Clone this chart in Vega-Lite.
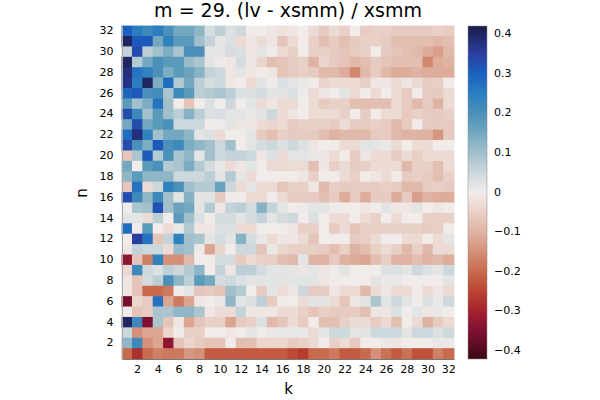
{
"$schema":"https://vega.github.io/schema/vega-lite/v6.json",
"width":332,"height":333,
"autosize":"none",
"padding":{"left":122,"top":26,"right":146,"bottom":41},
"background":"white",
"title":{"text":"m = 29. (lv - xsmm) / xsmm","fontSize":19,"font":"DejaVu Sans","fontWeight":"normal","color":"black","anchor":"middle","offset":4},
"config":{"view":{"stroke":null},"font":"DejaVu Sans"},
"data":{"values":[
{"n":32,"k":1,"v":0.3},{"n":32,"k":2,"v":0.25},{"n":32,"k":3,"v":0.22},{"n":32,"k":4,"v":0.25},{"n":32,"k":5,"v":0.2},{"n":32,"k":6,"v":0.15},{"n":32,"k":7,"v":0.15},{"n":32,"k":8,"v":0.12},{"n":32,"k":9,"v":0.04},{"n":32,"k":10,"v":0.07},{"n":32,"k":11,"v":0.03},{"n":32,"k":12,"v":0.05},{"n":32,"k":13,"v":0},{"n":32,"k":14,"v":0},{"n":32,"k":15,"v":-0.01},{"n":32,"k":16,"v":-0.02},{"n":32,"k":17,"v":-0.01},{"n":32,"k":18,"v":0},{"n":32,"k":19,"v":-0.03},{"n":32,"k":20,"v":-0.06},{"n":32,"k":21,"v":-0.03},{"n":32,"k":22,"v":-0.05},{"n":32,"k":23,"v":0},{"n":32,"k":24,"v":-0.06},{"n":32,"k":25,"v":-0.05},{"n":32,"k":26,"v":-0.05},{"n":32,"k":27,"v":-0.06},{"n":32,"k":28,"v":-0.06},{"n":32,"k":29,"v":-0.06},{"n":32,"k":30,"v":-0.06},{"n":32,"k":31,"v":-0.05},{"n":32,"k":32,"v":-0.06},
{"n":31,"k":1,"v":0.4},{"n":31,"k":2,"v":0.31},{"n":31,"k":3,"v":0.31},{"n":31,"k":4,"v":0.15},{"n":31,"k":5,"v":0.24},{"n":31,"k":6,"v":0.18},{"n":31,"k":7,"v":0.18},{"n":31,"k":8,"v":0.1},{"n":31,"k":9,"v":0.06},{"n":31,"k":10,"v":0.02},{"n":31,"k":11,"v":0.03},{"n":31,"k":12,"v":-0.03},{"n":31,"k":13,"v":-0.01},{"n":31,"k":14,"v":-0.03},{"n":31,"k":15,"v":-0.01},{"n":31,"k":16,"v":-0.07},{"n":31,"k":17,"v":-0.03},{"n":31,"k":18,"v":0},{"n":31,"k":19,"v":-0.05},{"n":31,"k":20,"v":-0.08},{"n":31,"k":21,"v":-0.06},{"n":31,"k":22,"v":-0.08},{"n":31,"k":23,"v":-0.06},{"n":31,"k":24,"v":-0.05},{"n":31,"k":25,"v":-0.05},{"n":31,"k":26,"v":-0.06},{"n":31,"k":27,"v":-0.08},{"n":31,"k":28,"v":-0.08},{"n":31,"k":29,"v":-0.08},{"n":31,"k":30,"v":-0.08},{"n":31,"k":31,"v":-0.09},{"n":31,"k":32,"v":-0.08},
{"n":30,"k":1,"v":0.06},{"n":30,"k":2,"v":0.33},{"n":30,"k":3,"v":0.07},{"n":30,"k":4,"v":0.1},{"n":30,"k":5,"v":0.14},{"n":30,"k":6,"v":0.09},{"n":30,"k":7,"v":0.2},{"n":30,"k":8,"v":0.2},{"n":30,"k":9,"v":0.02},{"n":30,"k":10,"v":0.02},{"n":30,"k":11,"v":0.04},{"n":30,"k":12,"v":0.03},{"n":30,"k":13,"v":-0.01},{"n":30,"k":14,"v":0.02},{"n":30,"k":15,"v":0},{"n":30,"k":16,"v":-0.03},{"n":30,"k":17,"v":-0.05},{"n":30,"k":18,"v":0},{"n":30,"k":19,"v":-0.05},{"n":30,"k":20,"v":-0.05},{"n":30,"k":21,"v":-0.06},{"n":30,"k":22,"v":-0.07},{"n":30,"k":23,"v":-0.06},{"n":30,"k":24,"v":-0.05},{"n":30,"k":25,"v":0},{"n":30,"k":26,"v":-0.06},{"n":30,"k":27,"v":-0.07},{"n":30,"k":28,"v":-0.08},{"n":30,"k":29,"v":-0.09},{"n":30,"k":30,"v":-0.11},{"n":30,"k":31,"v":-0.13},{"n":30,"k":32,"v":-0.09},
{"n":29,"k":1,"v":0.4},{"n":29,"k":2,"v":0.08},{"n":29,"k":3,"v":0.15},{"n":29,"k":4,"v":0.2},{"n":29,"k":5,"v":0.18},{"n":29,"k":6,"v":0.18},{"n":29,"k":7,"v":0.11},{"n":29,"k":8,"v":0.09},{"n":29,"k":9,"v":0.02},{"n":29,"k":10,"v":0.005},{"n":29,"k":11,"v":-0.01},{"n":29,"k":12,"v":0.04},{"n":29,"k":13,"v":-0.01},{"n":29,"k":14,"v":-0.04},{"n":29,"k":15,"v":-0.08},{"n":29,"k":16,"v":-0.07},{"n":29,"k":17,"v":-0.06},{"n":29,"k":18,"v":-0.05},{"n":29,"k":19,"v":-0.1},{"n":29,"k":20,"v":-0.04},{"n":29,"k":21,"v":-0.06},{"n":29,"k":22,"v":-0.07},{"n":29,"k":23,"v":-0.09},{"n":29,"k":24,"v":-0.08},{"n":29,"k":25,"v":-0.06},{"n":29,"k":26,"v":-0.07},{"n":29,"k":27,"v":-0.08},{"n":29,"k":28,"v":-0.08},{"n":29,"k":29,"v":-0.08},{"n":29,"k":30,"v":-0.16},{"n":29,"k":31,"v":-0.11},{"n":29,"k":32,"v":-0.1},
{"n":28,"k":1,"v":0.38},{"n":28,"k":2,"v":0.27},{"n":28,"k":3,"v":0.24},{"n":28,"k":4,"v":0.2},{"n":28,"k":5,"v":0.14},{"n":28,"k":6,"v":0.18},{"n":28,"k":7,"v":0.16},{"n":28,"k":8,"v":0.13},{"n":28,"k":9,"v":0.06},{"n":28,"k":10,"v":0.05},{"n":28,"k":11,"v":-0.01},{"n":28,"k":12,"v":0.02},{"n":28,"k":13,"v":-0.01},{"n":28,"k":14,"v":0},{"n":28,"k":15,"v":-0.01},{"n":28,"k":16,"v":-0.07},{"n":28,"k":17,"v":-0.06},{"n":28,"k":18,"v":-0.05},{"n":28,"k":19,"v":-0.06},{"n":28,"k":20,"v":-0.09},{"n":28,"k":21,"v":-0.09},{"n":28,"k":22,"v":-0.11},{"n":28,"k":23,"v":-0.16},{"n":28,"k":24,"v":-0.09},{"n":28,"k":25,"v":-0.06},{"n":28,"k":26,"v":-0.09},{"n":28,"k":27,"v":-0.11},{"n":28,"k":28,"v":-0.11},{"n":28,"k":29,"v":-0.1},{"n":28,"k":30,"v":-0.11},{"n":28,"k":31,"v":-0.11},{"n":28,"k":32,"v":-0.11},
{"n":27,"k":1,"v":0.37},{"n":27,"k":2,"v":0.25},{"n":27,"k":3,"v":0.4},{"n":27,"k":4,"v":0.14},{"n":27,"k":5,"v":0.28},{"n":27,"k":6,"v":0.08},{"n":27,"k":7,"v":0.15},{"n":27,"k":8,"v":0.07},{"n":27,"k":9,"v":0.04},{"n":27,"k":10,"v":0.05},{"n":27,"k":11,"v":-0.01},{"n":27,"k":12,"v":0},{"n":27,"k":13,"v":-0.03},{"n":27,"k":14,"v":0.02},{"n":27,"k":15,"v":0.005},{"n":27,"k":16,"v":0.03},{"n":27,"k":17,"v":0.02},{"n":27,"k":18,"v":0.01},{"n":27,"k":19,"v":0},{"n":27,"k":20,"v":-0.045},{"n":27,"k":21,"v":-0.03},{"n":27,"k":22,"v":-0.03},{"n":27,"k":23,"v":-0.03},{"n":27,"k":24,"v":-0.05},{"n":27,"k":25,"v":-0.01},{"n":27,"k":26,"v":-0.01},{"n":27,"k":27,"v":-0.03},{"n":27,"k":28,"v":-0.01},{"n":27,"k":29,"v":-0.03},{"n":27,"k":30,"v":-0.06},{"n":27,"k":31,"v":-0.05},{"n":27,"k":32,"v":0},
{"n":26,"k":1,"v":0.29},{"n":26,"k":2,"v":0.31},{"n":26,"k":3,"v":0.2},{"n":26,"k":4,"v":0.21},{"n":26,"k":5,"v":0.09},{"n":26,"k":6,"v":0.22},{"n":26,"k":7,"v":0.18},{"n":26,"k":8,"v":0.07},{"n":26,"k":9,"v":0.08},{"n":26,"k":10,"v":0.09},{"n":26,"k":11,"v":0.07},{"n":26,"k":12,"v":0.03},{"n":26,"k":13,"v":0.03},{"n":26,"k":14,"v":0.04},{"n":26,"k":15,"v":0.02},{"n":26,"k":16,"v":0.02},{"n":26,"k":17,"v":0.03},{"n":26,"k":18,"v":0.005},{"n":26,"k":19,"v":-0.03},{"n":26,"k":20,"v":-0.01},{"n":26,"k":21,"v":0},{"n":26,"k":22,"v":0.02},{"n":26,"k":23,"v":-0.03},{"n":26,"k":24,"v":0},{"n":26,"k":25,"v":-0.03},{"n":26,"k":26,"v":0},{"n":26,"k":27,"v":-0.03},{"n":26,"k":28,"v":-0.06},{"n":26,"k":29,"v":0},{"n":26,"k":30,"v":-0.06},{"n":26,"k":31,"v":-0.06},{"n":26,"k":32,"v":-0.03},
{"n":25,"k":1,"v":0.18},{"n":25,"k":2,"v":0.1},{"n":25,"k":3,"v":0.14},{"n":25,"k":4,"v":0.27},{"n":25,"k":5,"v":0.1},{"n":25,"k":6,"v":0},{"n":25,"k":7,"v":-0.07},{"n":25,"k":8,"v":0},{"n":25,"k":9,"v":0.03},{"n":25,"k":10,"v":0},{"n":25,"k":11,"v":0.05},{"n":25,"k":12,"v":0},{"n":25,"k":13,"v":0.02},{"n":25,"k":14,"v":-0.03},{"n":25,"k":15,"v":-0.01},{"n":25,"k":16,"v":-0.03},{"n":25,"k":17,"v":-0.03},{"n":25,"k":18,"v":0},{"n":25,"k":19,"v":-0.03},{"n":25,"k":20,"v":-0.06},{"n":25,"k":21,"v":-0.05},{"n":25,"k":22,"v":-0.05},{"n":25,"k":23,"v":-0.08},{"n":25,"k":24,"v":-0.08},{"n":25,"k":25,"v":-0.08},{"n":25,"k":26,"v":-0.08},{"n":25,"k":27,"v":-0.03},{"n":25,"k":28,"v":-0.06},{"n":25,"k":29,"v":-0.09},{"n":25,"k":30,"v":-0.06},{"n":25,"k":31,"v":-0.1},{"n":25,"k":32,"v":-0.03},
{"n":24,"k":1,"v":0.33},{"n":24,"k":2,"v":0.22},{"n":24,"k":3,"v":0.1},{"n":24,"k":4,"v":0.18},{"n":24,"k":5,"v":0.1},{"n":24,"k":6,"v":0.07},{"n":24,"k":7,"v":0.13},{"n":24,"k":8,"v":0.07},{"n":24,"k":9,"v":0.03},{"n":24,"k":10,"v":0.035},{"n":24,"k":11,"v":0.02},{"n":24,"k":12,"v":0.02},{"n":24,"k":13,"v":0.01},{"n":24,"k":14,"v":0.02},{"n":24,"k":15,"v":0.05},{"n":24,"k":16,"v":-0.03},{"n":24,"k":17,"v":-0.01},{"n":24,"k":18,"v":0},{"n":24,"k":19,"v":-0.03},{"n":24,"k":20,"v":-0.03},{"n":24,"k":21,"v":-0.03},{"n":24,"k":22,"v":-0.05},{"n":24,"k":23,"v":0},{"n":24,"k":24,"v":-0.06},{"n":24,"k":25,"v":0},{"n":24,"k":26,"v":-0.03},{"n":24,"k":27,"v":-0.03},{"n":24,"k":28,"v":-0.06},{"n":24,"k":29,"v":-0.05},{"n":24,"k":30,"v":-0.06},{"n":24,"k":31,"v":-0.06},{"n":24,"k":32,"v":-0.05},
{"n":23,"k":1,"v":0.15},{"n":23,"k":2,"v":0.33},{"n":23,"k":3,"v":0.15},{"n":23,"k":4,"v":0.18},{"n":23,"k":5,"v":0.2},{"n":23,"k":6,"v":0.05},{"n":23,"k":7,"v":0.05},{"n":23,"k":8,"v":0.05},{"n":23,"k":9,"v":0},{"n":23,"k":10,"v":0.005},{"n":23,"k":11,"v":0.02},{"n":23,"k":12,"v":-0.01},{"n":23,"k":13,"v":-0.01},{"n":23,"k":14,"v":-0.03},{"n":23,"k":15,"v":-0.04},{"n":23,"k":16,"v":-0.03},{"n":23,"k":17,"v":-0.06},{"n":23,"k":18,"v":-0.05},{"n":23,"k":19,"v":-0.05},{"n":23,"k":20,"v":-0.05},{"n":23,"k":21,"v":-0.06},{"n":23,"k":22,"v":-0.03},{"n":23,"k":23,"v":-0.06},{"n":23,"k":24,"v":-0.06},{"n":23,"k":25,"v":-0.05},{"n":23,"k":26,"v":-0.06},{"n":23,"k":27,"v":-0.09},{"n":23,"k":28,"v":-0.06},{"n":23,"k":29,"v":0},{"n":23,"k":30,"v":-0.06},{"n":23,"k":31,"v":-0.06},{"n":23,"k":32,"v":-0.06},
{"n":22,"k":1,"v":0.28},{"n":22,"k":2,"v":0.38},{"n":22,"k":3,"v":0.24},{"n":22,"k":4,"v":0.1},{"n":22,"k":5,"v":0.15},{"n":22,"k":6,"v":0.15},{"n":22,"k":7,"v":0.12},{"n":22,"k":8,"v":0.02},{"n":22,"k":9,"v":0.03},{"n":22,"k":10,"v":-0.03},{"n":22,"k":11,"v":0},{"n":22,"k":12,"v":0},{"n":22,"k":13,"v":0.02},{"n":22,"k":14,"v":-0.06},{"n":22,"k":15,"v":-0.08},{"n":22,"k":16,"v":-0.05},{"n":22,"k":17,"v":-0.06},{"n":22,"k":18,"v":-0.06},{"n":22,"k":19,"v":-0.06},{"n":22,"k":20,"v":-0.08},{"n":22,"k":21,"v":-0.1},{"n":22,"k":22,"v":-0.09},{"n":22,"k":23,"v":-0.09},{"n":22,"k":24,"v":-0.09},{"n":22,"k":25,"v":-0.06},{"n":22,"k":26,"v":-0.06},{"n":22,"k":27,"v":-0.09},{"n":22,"k":28,"v":-0.1},{"n":22,"k":29,"v":-0.1},{"n":22,"k":30,"v":-0.1},{"n":22,"k":31,"v":-0.14},{"n":22,"k":32,"v":-0.06},
{"n":21,"k":1,"v":0.33},{"n":21,"k":2,"v":0.2},{"n":21,"k":3,"v":0.14},{"n":21,"k":4,"v":0.31},{"n":21,"k":5,"v":0.2},{"n":21,"k":6,"v":0.22},{"n":21,"k":7,"v":0.14},{"n":21,"k":8,"v":0.12},{"n":21,"k":9,"v":0.1},{"n":21,"k":10,"v":0.05},{"n":21,"k":11,"v":0.1},{"n":21,"k":12,"v":0},{"n":21,"k":13,"v":0.02},{"n":21,"k":14,"v":0.04},{"n":21,"k":15,"v":0.05},{"n":21,"k":16,"v":0.03},{"n":21,"k":17,"v":0.05},{"n":21,"k":18,"v":0.03},{"n":21,"k":19,"v":-0.01},{"n":21,"k":20,"v":0},{"n":21,"k":21,"v":0},{"n":21,"k":22,"v":-0.03},{"n":21,"k":23,"v":-0.03},{"n":21,"k":24,"v":0.02},{"n":21,"k":25,"v":0.02},{"n":21,"k":26,"v":0.01},{"n":21,"k":27,"v":-0.03},{"n":21,"k":28,"v":0},{"n":21,"k":29,"v":-0.03},{"n":21,"k":30,"v":-0.03},{"n":21,"k":31,"v":0},{"n":21,"k":32,"v":0},
{"n":20,"k":1,"v":-0.07},{"n":20,"k":2,"v":0.09},{"n":20,"k":3,"v":0.31},{"n":20,"k":4,"v":0.08},{"n":20,"k":5,"v":0.2},{"n":20,"k":6,"v":0.09},{"n":20,"k":7,"v":0.12},{"n":20,"k":8,"v":0.02},{"n":20,"k":9,"v":0.1},{"n":20,"k":10,"v":0.05},{"n":20,"k":11,"v":0.06},{"n":20,"k":12,"v":0.06},{"n":20,"k":13,"v":0.05},{"n":20,"k":14,"v":-0.01},{"n":20,"k":15,"v":0.03},{"n":20,"k":16,"v":-0.03},{"n":20,"k":17,"v":0.02},{"n":20,"k":18,"v":0.02},{"n":20,"k":19,"v":0.01},{"n":20,"k":20,"v":-0.01},{"n":20,"k":21,"v":-0.03},{"n":20,"k":22,"v":0},{"n":20,"k":23,"v":-0.06},{"n":20,"k":24,"v":-0.01},{"n":20,"k":25,"v":-0.03},{"n":20,"k":26,"v":-0.03},{"n":20,"k":27,"v":-0.06},{"n":20,"k":28,"v":-0.03},{"n":20,"k":29,"v":-0.05},{"n":20,"k":30,"v":-0.03},{"n":20,"k":31,"v":-0.03},{"n":20,"k":32,"v":-0.03},
{"n":19,"k":1,"v":0.15},{"n":19,"k":2,"v":0},{"n":19,"k":3,"v":0.18},{"n":19,"k":4,"v":0.2},{"n":19,"k":5,"v":0.08},{"n":19,"k":6,"v":0.09},{"n":19,"k":7,"v":0.14},{"n":19,"k":8,"v":0.08},{"n":19,"k":9,"v":0.04},{"n":19,"k":10,"v":0.01},{"n":19,"k":11,"v":-0.03},{"n":19,"k":12,"v":-0.01},{"n":19,"k":13,"v":0.02},{"n":19,"k":14,"v":0},{"n":19,"k":15,"v":-0.03},{"n":19,"k":16,"v":-0.035},{"n":19,"k":17,"v":-0.03},{"n":19,"k":18,"v":-0.03},{"n":19,"k":19,"v":-0.08},{"n":19,"k":20,"v":-0.01},{"n":19,"k":21,"v":-0.05},{"n":19,"k":22,"v":-0.03},{"n":19,"k":23,"v":-0.06},{"n":19,"k":24,"v":-0.05},{"n":19,"k":25,"v":-0.03},{"n":19,"k":26,"v":-0.03},{"n":19,"k":27,"v":-0.03},{"n":19,"k":28,"v":-0.09},{"n":19,"k":29,"v":-0.05},{"n":19,"k":30,"v":-0.05},{"n":19,"k":31,"v":-0.08},{"n":19,"k":32,"v":-0.03},
{"n":18,"k":1,"v":0.12},{"n":18,"k":2,"v":0.18},{"n":18,"k":3,"v":0.12},{"n":18,"k":4,"v":0.12},{"n":18,"k":5,"v":0.12},{"n":18,"k":6,"v":0.05},{"n":18,"k":7,"v":0.05},{"n":18,"k":8,"v":0.05},{"n":18,"k":9,"v":0.07},{"n":18,"k":10,"v":0.02},{"n":18,"k":11,"v":0.08},{"n":18,"k":12,"v":0.02},{"n":18,"k":13,"v":-0.03},{"n":18,"k":14,"v":0},{"n":18,"k":15,"v":0},{"n":18,"k":16,"v":0},{"n":18,"k":17,"v":0},{"n":18,"k":18,"v":-0.01},{"n":18,"k":19,"v":-0.05},{"n":18,"k":20,"v":0},{"n":18,"k":21,"v":0},{"n":18,"k":22,"v":-0.03},{"n":18,"k":23,"v":-0.05},{"n":18,"k":24,"v":0},{"n":18,"k":25,"v":-0.01},{"n":18,"k":26,"v":-0.03},{"n":18,"k":27,"v":0},{"n":18,"k":28,"v":-0.06},{"n":18,"k":29,"v":-0.05},{"n":18,"k":30,"v":-0.06},{"n":18,"k":31,"v":-0.08},{"n":18,"k":32,"v":-0.05},
{"n":17,"k":1,"v":-0.07},{"n":17,"k":2,"v":0.27},{"n":17,"k":3,"v":-0.03},{"n":17,"k":4,"v":0.05},{"n":17,"k":5,"v":0.24},{"n":17,"k":6,"v":0.2},{"n":17,"k":7,"v":0.1},{"n":17,"k":8,"v":0.08},{"n":17,"k":9,"v":0.08},{"n":17,"k":10,"v":0.16},{"n":17,"k":11,"v":0.05},{"n":17,"k":12,"v":-0.03},{"n":17,"k":13,"v":0.02},{"n":17,"k":14,"v":-0.03},{"n":17,"k":15,"v":-0.03},{"n":17,"k":16,"v":-0.07},{"n":17,"k":17,"v":-0.05},{"n":17,"k":18,"v":-0.05},{"n":17,"k":19,"v":-0.01},{"n":17,"k":20,"v":-0.09},{"n":17,"k":21,"v":-0.05},{"n":17,"k":22,"v":-0.06},{"n":17,"k":23,"v":-0.06},{"n":17,"k":24,"v":-0.06},{"n":17,"k":25,"v":-0.06},{"n":17,"k":26,"v":-0.05},{"n":17,"k":27,"v":-0.06},{"n":17,"k":28,"v":-0.09},{"n":17,"k":29,"v":-0.09},{"n":17,"k":30,"v":-0.06},{"n":17,"k":31,"v":-0.05},{"n":17,"k":32,"v":-0.06},
{"n":16,"k":1,"v":0.33},{"n":16,"k":2,"v":0.22},{"n":16,"k":3,"v":0.12},{"n":16,"k":4,"v":0.22},{"n":16,"k":5,"v":0.1},{"n":16,"k":6,"v":0.02},{"n":16,"k":7,"v":0.13},{"n":16,"k":8,"v":0.02},{"n":16,"k":9,"v":0.02},{"n":16,"k":10,"v":-0.06},{"n":16,"k":11,"v":0},{"n":16,"k":12,"v":0},{"n":16,"k":13,"v":-0.03},{"n":16,"k":14,"v":-0.03},{"n":16,"k":15,"v":0},{"n":16,"k":16,"v":-0.03},{"n":16,"k":17,"v":-0.06},{"n":16,"k":18,"v":-0.06},{"n":16,"k":19,"v":-0.06},{"n":16,"k":20,"v":-0.08},{"n":16,"k":21,"v":-0.06},{"n":16,"k":22,"v":-0.11},{"n":16,"k":23,"v":-0.06},{"n":16,"k":24,"v":-0.11},{"n":16,"k":25,"v":-0.06},{"n":16,"k":26,"v":-0.06},{"n":16,"k":27,"v":-0.11},{"n":16,"k":28,"v":-0.06},{"n":16,"k":29,"v":-0.13},{"n":16,"k":30,"v":-0.1},{"n":16,"k":31,"v":-0.11},{"n":16,"k":32,"v":-0.11},
{"n":15,"k":1,"v":0},{"n":15,"k":2,"v":0.09},{"n":15,"k":3,"v":0.1},{"n":15,"k":4,"v":0.32},{"n":15,"k":5,"v":0.1},{"n":15,"k":6,"v":0.16},{"n":15,"k":7,"v":0.15},{"n":15,"k":8,"v":0.02},{"n":15,"k":9,"v":0.08},{"n":15,"k":10,"v":-0.01},{"n":15,"k":11,"v":0.06},{"n":15,"k":12,"v":0.07},{"n":15,"k":13,"v":0.04},{"n":15,"k":14,"v":0.13},{"n":15,"k":15,"v":0.06},{"n":15,"k":16,"v":0.02},{"n":15,"k":17,"v":0},{"n":15,"k":18,"v":0.005},{"n":15,"k":19,"v":0.02},{"n":15,"k":20,"v":0.02},{"n":15,"k":21,"v":0.005},{"n":15,"k":22,"v":0},{"n":15,"k":23,"v":0},{"n":15,"k":24,"v":-0.01},{"n":15,"k":25,"v":0},{"n":15,"k":26,"v":0.02},{"n":15,"k":27,"v":-0.01},{"n":15,"k":28,"v":-0.01},{"n":15,"k":29,"v":0.02},{"n":15,"k":30,"v":0},{"n":15,"k":31,"v":-0.01},{"n":15,"k":32,"v":0},
{"n":14,"k":1,"v":0.02},{"n":14,"k":2,"v":0.02},{"n":14,"k":3,"v":-0.03},{"n":14,"k":4,"v":0.07},{"n":14,"k":5,"v":0},{"n":14,"k":6,"v":0.18},{"n":14,"k":7,"v":0.1},{"n":14,"k":8,"v":0.03},{"n":14,"k":9,"v":0},{"n":14,"k":10,"v":0.04},{"n":14,"k":11,"v":0.04},{"n":14,"k":12,"v":0.02},{"n":14,"k":13,"v":0.04},{"n":14,"k":14,"v":0.06},{"n":14,"k":15,"v":0.02},{"n":14,"k":16,"v":0.04},{"n":14,"k":17,"v":0.05},{"n":14,"k":18,"v":0},{"n":14,"k":19,"v":0.03},{"n":14,"k":20,"v":0},{"n":14,"k":21,"v":-0.03},{"n":14,"k":22,"v":-0.03},{"n":14,"k":23,"v":0},{"n":14,"k":24,"v":-0.03},{"n":14,"k":25,"v":-0.05},{"n":14,"k":26,"v":0},{"n":14,"k":27,"v":-0.03},{"n":14,"k":28,"v":0},{"n":14,"k":29,"v":0},{"n":14,"k":30,"v":-0.05},{"n":14,"k":31,"v":-0.05},{"n":14,"k":32,"v":-0.05},
{"n":13,"k":1,"v":0.28},{"n":13,"k":2,"v":0},{"n":13,"k":3,"v":0.18},{"n":13,"k":4,"v":0},{"n":13,"k":5,"v":-0.03},{"n":13,"k":6,"v":0.01},{"n":13,"k":7,"v":0.08},{"n":13,"k":8,"v":-0.01},{"n":13,"k":9,"v":-0.01},{"n":13,"k":10,"v":0.03},{"n":13,"k":11,"v":0.03},{"n":13,"k":12,"v":-0.03},{"n":13,"k":13,"v":-0.03},{"n":13,"k":14,"v":0},{"n":13,"k":15,"v":0},{"n":13,"k":16,"v":0},{"n":13,"k":17,"v":-0.01},{"n":13,"k":18,"v":-0.05},{"n":13,"k":19,"v":-0.05},{"n":13,"k":20,"v":0},{"n":13,"k":21,"v":-0.06},{"n":13,"k":22,"v":-0.03},{"n":13,"k":23,"v":-0.07},{"n":13,"k":24,"v":-0.05},{"n":13,"k":25,"v":-0.05},{"n":13,"k":26,"v":-0.05},{"n":13,"k":27,"v":-0.05},{"n":13,"k":28,"v":-0.05},{"n":13,"k":29,"v":-0.05},{"n":13,"k":30,"v":-0.06},{"n":13,"k":31,"v":-0.05},{"n":13,"k":32,"v":0},
{"n":12,"k":1,"v":0},{"n":12,"k":2,"v":0.35},{"n":12,"k":3,"v":0.27},{"n":12,"k":4,"v":-0.07},{"n":12,"k":5,"v":0.06},{"n":12,"k":6,"v":0.24},{"n":12,"k":7,"v":0.1},{"n":12,"k":8,"v":0.09},{"n":12,"k":9,"v":0.02},{"n":12,"k":10,"v":0.04},{"n":12,"k":11,"v":0.02},{"n":12,"k":12,"v":0.13},{"n":12,"k":13,"v":0.04},{"n":12,"k":14,"v":0.01},{"n":12,"k":15,"v":-0.03},{"n":12,"k":16,"v":-0.01},{"n":12,"k":17,"v":-0.01},{"n":12,"k":18,"v":-0.03},{"n":12,"k":19,"v":-0.07},{"n":12,"k":20,"v":0},{"n":12,"k":21,"v":0},{"n":12,"k":22,"v":0},{"n":12,"k":23,"v":-0.06},{"n":12,"k":24,"v":-0.05},{"n":12,"k":25,"v":-0.03},{"n":12,"k":26,"v":0},{"n":12,"k":27,"v":0},{"n":12,"k":28,"v":-0.03},{"n":12,"k":29,"v":-0.03},{"n":12,"k":30,"v":0},{"n":12,"k":31,"v":-0.03},{"n":12,"k":32,"v":0.02},
{"n":11,"k":1,"v":-0.01},{"n":11,"k":2,"v":0.06},{"n":11,"k":3,"v":0.05},{"n":11,"k":4,"v":0.05},{"n":11,"k":5,"v":-0.03},{"n":11,"k":6,"v":0.11},{"n":11,"k":7,"v":0.1},{"n":11,"k":8,"v":0.005},{"n":11,"k":9,"v":-0.12},{"n":11,"k":10,"v":-0.04},{"n":11,"k":11,"v":0},{"n":11,"k":12,"v":0.05},{"n":11,"k":13,"v":0.05},{"n":11,"k":14,"v":-0.07},{"n":11,"k":15,"v":0.01},{"n":11,"k":16,"v":-0.04},{"n":11,"k":17,"v":-0.05},{"n":11,"k":18,"v":-0.05},{"n":11,"k":19,"v":-0.05},{"n":11,"k":20,"v":-0.06},{"n":11,"k":21,"v":-0.08},{"n":11,"k":22,"v":-0.05},{"n":11,"k":23,"v":-0.1},{"n":11,"k":24,"v":-0.08},{"n":11,"k":25,"v":-0.05},{"n":11,"k":26,"v":-0.03},{"n":11,"k":27,"v":-0.05},{"n":11,"k":28,"v":-0.09},{"n":11,"k":29,"v":-0.05},{"n":11,"k":30,"v":-0.09},{"n":11,"k":31,"v":-0.03},{"n":11,"k":32,"v":-0.03},
{"n":10,"k":1,"v":-0.33},{"n":10,"k":2,"v":-0.07},{"n":10,"k":3,"v":-0.17},{"n":10,"k":4,"v":0.24},{"n":10,"k":5,"v":-0.15},{"n":10,"k":6,"v":-0.15},{"n":10,"k":7,"v":-0.09},{"n":10,"k":8,"v":0},{"n":10,"k":9,"v":0},{"n":10,"k":10,"v":0.04},{"n":10,"k":11,"v":0.04},{"n":10,"k":12,"v":-0.06},{"n":10,"k":13,"v":-0.03},{"n":10,"k":14,"v":-0.05},{"n":10,"k":15,"v":-0.05},{"n":10,"k":16,"v":-0.08},{"n":10,"k":17,"v":-0.09},{"n":10,"k":18,"v":0.02},{"n":10,"k":19,"v":-0.1},{"n":10,"k":20,"v":-0.1},{"n":10,"k":21,"v":-0.06},{"n":10,"k":22,"v":-0.1},{"n":10,"k":23,"v":-0.11},{"n":10,"k":24,"v":-0.12},{"n":10,"k":25,"v":-0.08},{"n":10,"k":26,"v":-0.05},{"n":10,"k":27,"v":-0.1},{"n":10,"k":28,"v":-0.1},{"n":10,"k":29,"v":-0.08},{"n":10,"k":30,"v":-0.1},{"n":10,"k":31,"v":-0.09},{"n":10,"k":32,"v":-0.11},
{"n":9,"k":1,"v":-0.035},{"n":9,"k":2,"v":0.22},{"n":9,"k":3,"v":0.05},{"n":9,"k":4,"v":0.03},{"n":9,"k":5,"v":0.07},{"n":9,"k":6,"v":0.05},{"n":9,"k":7,"v":0.08},{"n":9,"k":8,"v":0.12},{"n":9,"k":9,"v":0},{"n":9,"k":10,"v":0.06},{"n":9,"k":11,"v":-0.01},{"n":9,"k":12,"v":0.07},{"n":9,"k":13,"v":0.07},{"n":9,"k":14,"v":0.04},{"n":9,"k":15,"v":0.02},{"n":9,"k":16,"v":0.02},{"n":9,"k":17,"v":0.02},{"n":9,"k":18,"v":-0.01},{"n":9,"k":19,"v":0.02},{"n":9,"k":20,"v":-0.01},{"n":9,"k":21,"v":0.005},{"n":9,"k":22,"v":0.02},{"n":9,"k":23,"v":0},{"n":9,"k":24,"v":0},{"n":9,"k":25,"v":0},{"n":9,"k":26,"v":0.03},{"n":9,"k":27,"v":0.03},{"n":9,"k":28,"v":0.02},{"n":9,"k":29,"v":0.05},{"n":9,"k":30,"v":0.03},{"n":9,"k":31,"v":0.02},{"n":9,"k":32,"v":0.05},
{"n":8,"k":1,"v":-0.01},{"n":8,"k":2,"v":-0.07},{"n":8,"k":3,"v":0.04},{"n":8,"k":4,"v":0.07},{"n":8,"k":5,"v":0.2},{"n":8,"k":6,"v":0.12},{"n":8,"k":7,"v":0.07},{"n":8,"k":8,"v":0.18},{"n":8,"k":9,"v":0.15},{"n":8,"k":10,"v":0.04},{"n":8,"k":11,"v":0.05},{"n":8,"k":12,"v":0.03},{"n":8,"k":13,"v":0.02},{"n":8,"k":14,"v":0.02},{"n":8,"k":15,"v":0.02},{"n":8,"k":16,"v":0.02},{"n":8,"k":17,"v":0.02},{"n":8,"k":18,"v":0.02},{"n":8,"k":19,"v":0.02},{"n":8,"k":20,"v":-0.01},{"n":8,"k":21,"v":0},{"n":8,"k":22,"v":0},{"n":8,"k":23,"v":0},{"n":8,"k":24,"v":0},{"n":8,"k":25,"v":0.02},{"n":8,"k":26,"v":0.01},{"n":8,"k":27,"v":0.01},{"n":8,"k":28,"v":0},{"n":8,"k":29,"v":0},{"n":8,"k":30,"v":0},{"n":8,"k":31,"v":0},{"n":8,"k":32,"v":0.02},
{"n":7,"k":1,"v":-0.01},{"n":7,"k":2,"v":-0.07},{"n":7,"k":3,"v":-0.2},{"n":7,"k":4,"v":-0.2},{"n":7,"k":5,"v":-0.18},{"n":7,"k":6,"v":0},{"n":7,"k":7,"v":0.02},{"n":7,"k":8,"v":-0.07},{"n":7,"k":9,"v":-0.06},{"n":7,"k":10,"v":-0.07},{"n":7,"k":11,"v":0.1},{"n":7,"k":12,"v":0.08},{"n":7,"k":13,"v":0},{"n":7,"k":14,"v":-0.06},{"n":7,"k":15,"v":0.02},{"n":7,"k":16,"v":-0.03},{"n":7,"k":17,"v":-0.01},{"n":7,"k":18,"v":0.05},{"n":7,"k":19,"v":-0.06},{"n":7,"k":20,"v":-0.06},{"n":7,"k":21,"v":-0.01},{"n":7,"k":22,"v":-0.03},{"n":7,"k":23,"v":-0.03},{"n":7,"k":24,"v":-0.09},{"n":7,"k":25,"v":-0.03},{"n":7,"k":26,"v":-0.01},{"n":7,"k":27,"v":-0.03},{"n":7,"k":28,"v":-0.03},{"n":7,"k":29,"v":0},{"n":7,"k":30,"v":-0.03},{"n":7,"k":31,"v":-0.01},{"n":7,"k":32,"v":-0.03},
{"n":6,"k":1,"v":-0.36},{"n":6,"k":2,"v":-0.04},{"n":6,"k":3,"v":-0.06},{"n":6,"k":4,"v":0.27},{"n":6,"k":5,"v":-0.12},{"n":6,"k":6,"v":-0.18},{"n":6,"k":7,"v":-0.12},{"n":6,"k":8,"v":-0.01},{"n":6,"k":9,"v":0},{"n":6,"k":10,"v":0.01},{"n":6,"k":11,"v":0.12},{"n":6,"k":12,"v":0.02},{"n":6,"k":13,"v":0.03},{"n":6,"k":14,"v":0.07},{"n":6,"k":15,"v":-0.06},{"n":6,"k":16,"v":0},{"n":6,"k":17,"v":0},{"n":6,"k":18,"v":-0.03},{"n":6,"k":19,"v":0.02},{"n":6,"k":20,"v":0.02},{"n":6,"k":21,"v":-0.03},{"n":6,"k":22,"v":-0.07},{"n":6,"k":23,"v":-0.01},{"n":6,"k":24,"v":0.02},{"n":6,"k":25,"v":0.09},{"n":6,"k":26,"v":0.02},{"n":6,"k":27,"v":0.05},{"n":6,"k":28,"v":0.02},{"n":6,"k":29,"v":0},{"n":6,"k":30,"v":0.03},{"n":6,"k":31,"v":0.01},{"n":6,"k":32,"v":0.05},
{"n":5,"k":1,"v":0},{"n":5,"k":2,"v":-0.07},{"n":5,"k":3,"v":-0.06},{"n":5,"k":4,"v":0.09},{"n":5,"k":5,"v":0.09},{"n":5,"k":6,"v":0.12},{"n":5,"k":7,"v":0.12},{"n":5,"k":8,"v":0.09},{"n":5,"k":9,"v":-0.01},{"n":5,"k":10,"v":-0.03},{"n":5,"k":11,"v":-0.03},{"n":5,"k":12,"v":0.06},{"n":5,"k":13,"v":-0.01},{"n":5,"k":14,"v":-0.01},{"n":5,"k":15,"v":-0.01},{"n":5,"k":16,"v":-0.03},{"n":5,"k":17,"v":-0.03},{"n":5,"k":18,"v":-0.05},{"n":5,"k":19,"v":-0.07},{"n":5,"k":20,"v":-0.05},{"n":5,"k":21,"v":-0.06},{"n":5,"k":22,"v":-0.06},{"n":5,"k":23,"v":-0.06},{"n":5,"k":24,"v":-0.08},{"n":5,"k":25,"v":-0.01},{"n":5,"k":26,"v":-0.01},{"n":5,"k":27,"v":0.03},{"n":5,"k":28,"v":0},{"n":5,"k":29,"v":0.02},{"n":5,"k":30,"v":-0.01},{"n":5,"k":31,"v":0.01},{"n":5,"k":32,"v":0},
{"n":4,"k":1,"v":0.4},{"n":4,"k":2,"v":0.22},{"n":4,"k":3,"v":-0.35},{"n":4,"k":4,"v":0.09},{"n":4,"k":5,"v":-0.07},{"n":4,"k":6,"v":-0.01},{"n":4,"k":7,"v":-0.12},{"n":4,"k":8,"v":-0.07},{"n":4,"k":9,"v":-0.05},{"n":4,"k":10,"v":-0.05},{"n":4,"k":11,"v":-0.12},{"n":4,"k":12,"v":-0.06},{"n":4,"k":13,"v":-0.05},{"n":4,"k":14,"v":0.03},{"n":4,"k":15,"v":-0.09},{"n":4,"k":16,"v":-0.07},{"n":4,"k":17,"v":-0.03},{"n":4,"k":18,"v":-0.06},{"n":4,"k":19,"v":0},{"n":4,"k":20,"v":-0.08},{"n":4,"k":21,"v":-0.08},{"n":4,"k":22,"v":-0.05},{"n":4,"k":23,"v":-0.03},{"n":4,"k":24,"v":-0.03},{"n":4,"k":25,"v":-0.06},{"n":4,"k":26,"v":-0.03},{"n":4,"k":27,"v":-0.08},{"n":4,"k":28,"v":0},{"n":4,"k":29,"v":-0.03},{"n":4,"k":30,"v":-0.1},{"n":4,"k":31,"v":-0.06},{"n":4,"k":32,"v":-0.03},
{"n":3,"k":1,"v":0.05},{"n":3,"k":2,"v":-0.15},{"n":3,"k":3,"v":-0.12},{"n":3,"k":4,"v":-0.12},{"n":3,"k":5,"v":-0.04},{"n":3,"k":6,"v":0},{"n":3,"k":7,"v":-0.05},{"n":3,"k":8,"v":-0.05},{"n":3,"k":9,"v":0},{"n":3,"k":10,"v":0},{"n":3,"k":11,"v":-0.01},{"n":3,"k":12,"v":0},{"n":3,"k":13,"v":0.02},{"n":3,"k":14,"v":0},{"n":3,"k":15,"v":0.01},{"n":3,"k":16,"v":0.01},{"n":3,"k":17,"v":0.01},{"n":3,"k":18,"v":0.01},{"n":3,"k":19,"v":-0.03},{"n":3,"k":20,"v":0.02},{"n":3,"k":21,"v":0.05},{"n":3,"k":22,"v":0.05},{"n":3,"k":23,"v":0.02},{"n":3,"k":24,"v":0.02},{"n":3,"k":25,"v":0.05},{"n":3,"k":26,"v":0.05},{"n":3,"k":27,"v":0.05},{"n":3,"k":28,"v":0.02},{"n":3,"k":29,"v":0.05},{"n":3,"k":30,"v":0.05},{"n":3,"k":31,"v":0.03},{"n":3,"k":32,"v":0.05},
{"n":2,"k":1,"v":0.12},{"n":2,"k":2,"v":0.22},{"n":2,"k":3,"v":-0.15},{"n":2,"k":4,"v":-0.12},{"n":2,"k":5,"v":-0.33},{"n":2,"k":6,"v":-0.07},{"n":2,"k":7,"v":-0.04},{"n":2,"k":8,"v":-0.06},{"n":2,"k":9,"v":-0.07},{"n":2,"k":10,"v":-0.07},{"n":2,"k":11,"v":0},{"n":2,"k":12,"v":-0.08},{"n":2,"k":13,"v":-0.08},{"n":2,"k":14,"v":-0.04},{"n":2,"k":15,"v":-0.04},{"n":2,"k":16,"v":-0.04},{"n":2,"k":17,"v":-0.06},{"n":2,"k":18,"v":-0.05},{"n":2,"k":19,"v":-0.03},{"n":2,"k":20,"v":0},{"n":2,"k":21,"v":-0.05},{"n":2,"k":22,"v":-0.03},{"n":2,"k":23,"v":-0.06},{"n":2,"k":24,"v":0},{"n":2,"k":25,"v":0},{"n":2,"k":26,"v":0.01},{"n":2,"k":27,"v":-0.01},{"n":2,"k":28,"v":0},{"n":2,"k":29,"v":0},{"n":2,"k":30,"v":0},{"n":2,"k":31,"v":0.01},{"n":2,"k":32,"v":0.01},
{"n":1,"k":1,"v":-0.2},{"n":1,"k":2,"v":-0.28},{"n":1,"k":3,"v":-0.2},{"n":1,"k":4,"v":-0.17},{"n":1,"k":5,"v":-0.18},{"n":1,"k":6,"v":-0.18},{"n":1,"k":7,"v":-0.14},{"n":1,"k":8,"v":-0.15},{"n":1,"k":9,"v":-0.22},{"n":1,"k":10,"v":-0.22},{"n":1,"k":11,"v":-0.22},{"n":1,"k":12,"v":-0.22},{"n":1,"k":13,"v":-0.22},{"n":1,"k":14,"v":-0.22},{"n":1,"k":15,"v":-0.22},{"n":1,"k":16,"v":-0.22},{"n":1,"k":17,"v":-0.24},{"n":1,"k":18,"v":-0.26},{"n":1,"k":19,"v":-0.2},{"n":1,"k":20,"v":-0.2},{"n":1,"k":21,"v":-0.18},{"n":1,"k":22,"v":-0.22},{"n":1,"k":23,"v":-0.22},{"n":1,"k":24,"v":-0.2},{"n":1,"k":25,"v":-0.15},{"n":1,"k":26,"v":-0.19},{"n":1,"k":27,"v":-0.22},{"n":1,"k":28,"v":-0.19},{"n":1,"k":29,"v":-0.23},{"n":1,"k":30,"v":-0.23},{"n":1,"k":31,"v":-0.17},{"n":1,"k":32,"v":-0.2}
]},
"mark":{"type":"rect","width":{"band":1.08},"height":{"band":1.08}},
"encoding":{
"x":{"field":"k","type":"ordinal","scale":{"paddingInner":0,"paddingOuter":0},
"axis":{"values":[2,4,6,8,10,12,14,16,18,20,22,24,26,28,30,32],"labelAngle":0,"title":"k","titleFontSize":15,"titleFontWeight":"normal","titleColor":"black","titlePadding":7,"labelFontSize":11,"labelColor":"black","labelPadding":4,"ticks":false,"domainColor":"#777","domainWidth":1,"grid":false,"zindex":1}},
"y":{"field":"n","type":"ordinal","sort":"descending","scale":{"paddingInner":0,"paddingOuter":0},
"axis":{"values":[2,4,6,8,10,12,14,16,18,20,22,24,26,28,30,32],"title":"n","titleFontSize":15,"titleFontWeight":"normal","titleColor":"black","titlePadding":10,"labelFontSize":11,"labelColor":"black","labelPadding":9,"ticks":false,"domainColor":"#aaa","domainWidth":1,"grid":false,"zindex":1}},
"color":{"field":"v","type":"quantitative",
"scale":{"domain":[-0.42,-0.35,-0.3,-0.25,-0.2,-0.15,-0.1,-0.05,0,0.05,0.1,0.15,0.2,0.25,0.3,0.35,0.42],
"range":["#3c0912","#7f1032","#a3222e","#bb4231","#c86a4c","#d49078","#dfb3a3","#e9d0c7","#f1ecea","#cdd8dc","#a2c0cc","#73a8c0","#4a90b8","#2a7ec0","#1a60c0","#2a3ea0","#1b1c47"],"interpolate":"rgb"},
"legend":{"title":null,"orient":"right","offset":14,"padding":0,"direction":"vertical","gradientLength":333,"gradientThickness":19,"gradientStrokeColor":"#888","gradientStrokeWidth":0.5,"values":[-0.4,-0.3,-0.2,-0.1,0,0.1,0.2,0.3,0.4],"format":".1~f","labelFontSize":11,"labelColor":"black","labelOffset":7,"labelOverlap":false}}
}
}
